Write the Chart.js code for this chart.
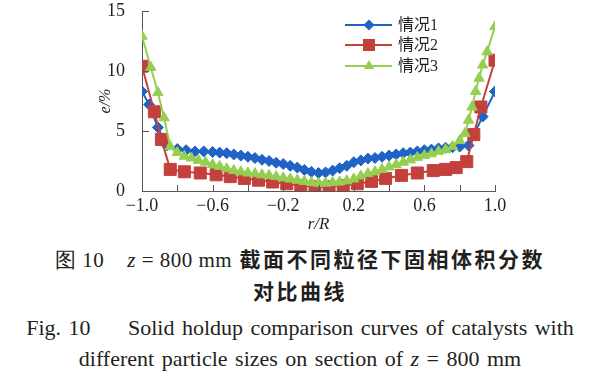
<!DOCTYPE html>
<html>
<head>
<meta charset="utf-8">
<script src="https://cdn.jsdelivr.net/npm/chart.js@4"></script>
<style>
  body { margin: 0; background: #fff; width: 600px; height: 384px; overflow: hidden; position: relative; }
  #wrap { position: absolute; left: 0; top: 0; width: 600px; height: 242px; }
  .cap { position: absolute; left: 0; width: 600px; text-align: center; color: #231f20; white-space: nowrap; }
  .cn { font-family: "Noto Sans CJK SC", sans-serif; font-weight: 700; font-size: 21px; letter-spacing: 2.5px; }
  .en { font-family: "Liberation Serif", "Times New Roman", serif; font-size: 22px; word-spacing: 2px; }
  .lat { font-family: "Liberation Serif", serif; font-weight: 400; letter-spacing: 0.5px; }
  i { font-family: "Liberation Serif", serif; }
</style>
</head>
<body>
<div id="wrap"><canvas id="grafica" width="600" height="242"></canvas></div>
<div class="cap cn" style="top:243px;"><span class="lat">图 10&nbsp;&nbsp;&nbsp;&nbsp;<i>z</i> = 800 mm</span> 截面不同粒径下固相体积分数</div>
<div class="cap cn" style="top:275px;">对比曲线</div>
<div class="cap en" style="top:315px;">Fig. 10&nbsp;&nbsp;&nbsp;&nbsp;&nbsp;Solid holdup comparison curves of catalysts with</div>
<div class="cap en" style="top:346px;">different particle sizes on section of <i>z</i> = 800 mm</div>
<script>
// 情况1
const rBlue = [-1.00, -0.96, -0.91, -0.86, -0.80, -0.75, -0.70, -0.65, -0.60, -0.56, -0.52, -0.48, -0.44, -0.40,
    -0.36, -0.32, -0.28, -0.24, -0.20, -0.16, -0.12, -0.08, -0.04, 0.00, 0.04, 0.08, 0.12, 0.16, 0.20, 0.24,
    0.28, 0.32, 0.36, 0.40, 0.44, 0.48, 0.52, 0.56, 0.60, 0.64, 0.68, 0.72, 0.76, 0.80, 0.85, 0.93, 1.00];
const eBlue = [8.3, 7.2, 5.3, 3.8, 3.5, 3.4, 3.3, 3.3, 3.25, 3.2, 3.15, 3.05, 2.95, 2.85,
    2.75, 2.6, 2.5, 2.35, 2.25, 2.1, 1.95, 1.75, 1.6, 1.5, 1.55, 1.7, 1.9, 2.1, 2.4, 2.55,
    2.7, 2.75, 2.85, 2.95, 3.05, 3.15, 3.2, 3.3, 3.4, 3.45, 3.55, 3.6, 3.65, 3.7, 3.8, 6.2, 8.3];

// 情况2
const rRed = [-1.00, -0.93, -0.89, -0.84, -0.76, -0.67, -0.58, -0.50, -0.42, -0.34, -0.26, -0.18, -0.10, -0.02,
    0.06, 0.14, 0.22, 0.30, 0.38, 0.47, 0.56, 0.65, 0.72, 0.78, 0.84, 0.88, 0.92, 1.00];
const eRed = [10.4, 6.6, 4.3, 1.8, 1.6, 1.5, 1.35, 1.2, 1.05, 0.9, 0.75, 0.6, 0.45, 0.35,
    0.35, 0.45, 0.6, 0.8, 1.05, 1.3, 1.5, 1.7, 1.8, 1.95, 2.45, 4.7, 7.0, 10.9];

// 情况3
const rGreen = [-1.00, -0.95, -0.91, -0.875, -0.84, -0.80, -0.76, -0.72, -0.68, -0.64, -0.60, -0.56, -0.52, -0.48,
    -0.44, -0.40, -0.36, -0.32, -0.28, -0.24, -0.20, -0.16, -0.12, -0.08, -0.04, 0.00, 0.04, 0.08, 0.12, 0.16,
    0.20, 0.24, 0.28, 0.32, 0.36, 0.40, 0.44, 0.48, 0.52, 0.56, 0.60, 0.64, 0.68, 0.72, 0.76, 0.80, 0.83, 0.85,
    0.87, 0.89, 0.91, 0.93, 0.955, 1.00];
const eGreen = [12.9, 10.3, 8.2, 6.1, 3.7, 3.2, 2.9, 2.75, 2.55, 2.4, 2.2, 2.05, 1.85, 1.7,
    1.6, 1.5, 1.45, 1.35, 1.3, 1.2, 1.1, 1.0, 0.9, 0.8, 0.7, 0.65, 0.65, 0.7, 0.75, 0.85,
    1.0, 1.25, 1.45, 1.6, 1.8, 2.0, 2.2, 2.4, 2.6, 2.8, 2.95, 3.1, 3.3, 3.45, 3.7, 4.2, 4.8, 5.9,
    7.0, 8.3, 9.4, 10.5, 11.6, 13.7];

const nombres = ['情况1', '情况2', '情况3'];
const yTicks = [0, 5, 10, 15];

function puntos(xs, ys) {
    return xs.map((x, i) => ({ x: x, y: ys[i] }));
}

const serie = [
    { label: nombres[0], data: puntos(rBlue, eBlue), color: '#1f63c6', style: 'rectRot', radius: 5.5, order: 3 },
    { label: nombres[1], data: puntos(rRed, eRed), color: '#c4403c', style: 'rect', radius: 8.5, order: 2 },
    { label: nombres[2], data: puntos(rGreen, eGreen), color: '#95cf52', style: 'triangle', radius: 6, order: 1 }
];

// leyenda y marcas de escala hacia dentro
const extras = {
    id: 'extras',
    afterDraw(chart) {
        const ctx = chart.ctx;
        const xs = chart.scales.x, ys = chart.scales.y;
        const area = chart.chartArea;
        ctx.save();
        ctx.strokeStyle = '#555';
        ctx.lineWidth = 1;
        for (let k = -5; k <= 5; k++) {
            const px = Math.round(xs.getPixelForValue(k * 0.2)) + 0.5;
            ctx.beginPath();
            ctx.moveTo(px, area.bottom);
            ctx.lineTo(px, area.bottom - 6);
            ctx.stroke();
        }
        yTicks.forEach(v => {
            const py = Math.round(ys.getPixelForValue(v)) + 0.5;
            ctx.beginPath();
            ctx.moveTo(area.left, py);
            ctx.lineTo(area.left + 7, py);
            ctx.stroke();
        });

        // leyenda
        const filas = [25, 45, 66];
        chart.data.datasets.forEach((ds, i) => {
            const y = filas[i];
            ctx.strokeStyle = ds.borderColor;
            ctx.lineWidth = 2;
            ctx.beginPath();
            ctx.moveTo(345, y);
            ctx.lineTo(392, y);
            ctx.stroke();
            ctx.fillStyle = ds.backgroundColor;
            ctx.strokeStyle = ds.borderColor;
            ctx.lineWidth = 1;
            Chart.helpers.drawPoint(ctx, { pointStyle: ds.pointStyle, radius: ds.pointRadius, rotation: 0 }, 369, y);
            ctx.fillStyle = '#231f20';
            ctx.font = '16px "Liberation Serif", "Noto Sans CJK SC", serif';
            ctx.textBaseline = 'middle';
            ctx.textAlign = 'left';
            ctx.fillText(ds.label, 398, y + 1);
        });
        ctx.restore();
    }
};

new Chart(document.getElementById('grafica'), {
    type: 'line',
    data: {
        datasets: serie.map(s => ({
            label: s.label,
            data: s.data,
            borderColor: s.color,
            backgroundColor: s.color,
            borderWidth: 2,
            pointStyle: s.style,
            pointRadius: s.radius,
            pointBorderWidth: 1,
            tension: 0,
            order: s.order
        }))
    },
    options: {
        responsive: false,
        animation: false,
        layout: { padding: { left: 92, top: 11, right: 105, bottom: 0 } },
        plugins: { legend: { display: false }, tooltip: { enabled: false } },
        scales: {
            x: {
                type: 'linear',
                min: -1,
                max: 1,
                afterFit: s => { s.height = 51; s.paddingLeft = 0; s.paddingRight = 0; },
                grid: { display: false },
                border: { display: true, color: '#555', width: 1 },
                ticks: {
                    stepSize: 0.2,
                    autoSkip: false,
                    maxRotation: 0,
                    padding: -4,
                    color: '#231f20',
                    font: { family: '"Liberation Serif", serif', size: 18 },
                    callback: v => {
                        const k = Math.round(v * 10);
                        if ((k + 10) % 4 !== 0) return '';
                        return (k < 0 ? '\u2212' : '') + Math.abs(v).toFixed(1);
                    }
                },
                title: {
                    display: true,
                    text: 'r/R',
                    color: '#231f20',
                    padding: { top: 0, bottom: 7 },
                    font: { family: '"Liberation Serif", serif', size: 17, style: 'italic' }
                }
            },
            y: {
                min: 0,
                max: 15,
                afterFit: s => { s.width = 50; s.paddingTop = 0; s.paddingBottom = 0; },
                grid: { display: false },
                border: { display: true, color: '#555', width: 1 },
                ticks: {
                    stepSize: 5,
                    padding: 9,
                    color: '#231f20',
                    font: { family: '"Liberation Serif", serif', size: 18 }
                },
                title: {
                    display: true,
                    text: 'e/%',
                    color: '#231f20',
                    padding: { top: 4, bottom: 0 },
                    font: { family: '"Liberation Serif", serif', size: 16, style: 'italic' }
                }
            }
        }
    },
    plugins: [extras]
});
</script>
</body>
</html>
